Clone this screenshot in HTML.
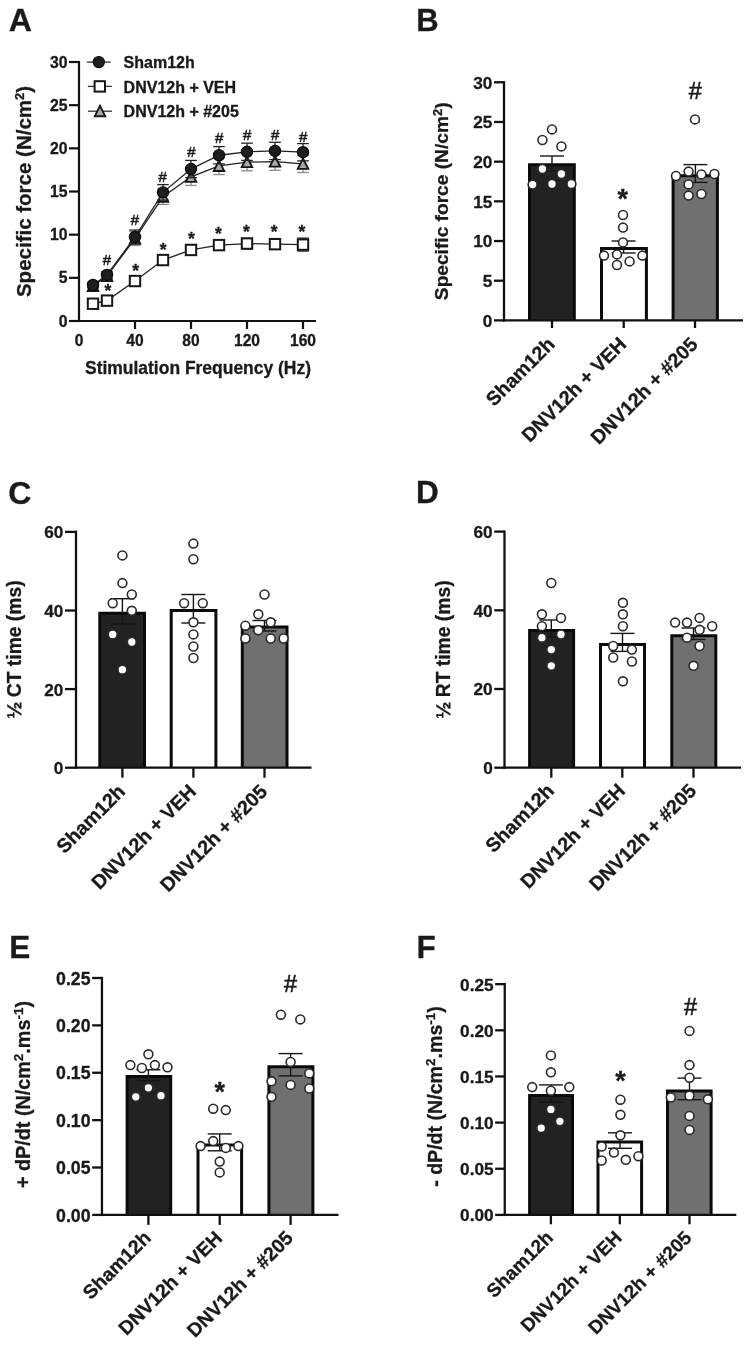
<!DOCTYPE html>
<html><head><meta charset="utf-8"><title>Figure</title>
<style>html,body{margin:0;padding:0;background:#fff}svg{display:block;filter:blur(0.45px)}text{font-family:"Liberation Sans",sans-serif;fill:#1a1a1a;stroke:#1a1a1a;stroke-width:.3px}</style></head><body>
<svg width="750" height="1347" viewBox="0 0 750 1347">
<rect width="750" height="1347" fill="#fff"/>
<text x="8.7" y="31.2" font-size="31.5" font-weight="bold" text-anchor="start" textLength="23.2" lengthAdjust="spacingAndGlyphs">A</text>
<line x1="93" y1="283.45" x2="93" y2="288.63" stroke="#8c8c8c" stroke-width="1.3" stroke-linecap="butt"/>
<line x1="87.2" y1="283.45" x2="98.8" y2="283.45" stroke="#8c8c8c" stroke-width="1.3" stroke-linecap="butt"/>
<line x1="87.2" y1="288.63" x2="98.8" y2="288.63" stroke="#8c8c8c" stroke-width="1.3" stroke-linecap="butt"/>
<line x1="107" y1="272.66" x2="107" y2="279.56" stroke="#8c8c8c" stroke-width="1.3" stroke-linecap="butt"/>
<line x1="101.2" y1="272.66" x2="112.8" y2="272.66" stroke="#8c8c8c" stroke-width="1.3" stroke-linecap="butt"/>
<line x1="101.2" y1="279.56" x2="112.8" y2="279.56" stroke="#8c8c8c" stroke-width="1.3" stroke-linecap="butt"/>
<line x1="135" y1="231.65" x2="135" y2="245.46" stroke="#8c8c8c" stroke-width="1.3" stroke-linecap="butt"/>
<line x1="129.2" y1="231.65" x2="140.8" y2="231.65" stroke="#8c8c8c" stroke-width="1.3" stroke-linecap="butt"/>
<line x1="129.2" y1="245.46" x2="140.8" y2="245.46" stroke="#8c8c8c" stroke-width="1.3" stroke-linecap="butt"/>
<line x1="163" y1="188.92" x2="163" y2="204.45" stroke="#8c8c8c" stroke-width="1.3" stroke-linecap="butt"/>
<line x1="157.2" y1="188.92" x2="168.8" y2="188.92" stroke="#8c8c8c" stroke-width="1.3" stroke-linecap="butt"/>
<line x1="157.2" y1="204.45" x2="168.8" y2="204.45" stroke="#8c8c8c" stroke-width="1.3" stroke-linecap="butt"/>
<line x1="191" y1="168.2" x2="191" y2="185.46" stroke="#8c8c8c" stroke-width="1.3" stroke-linecap="butt"/>
<line x1="185.2" y1="168.2" x2="196.8" y2="168.2" stroke="#8c8c8c" stroke-width="1.3" stroke-linecap="butt"/>
<line x1="185.2" y1="185.46" x2="196.8" y2="185.46" stroke="#8c8c8c" stroke-width="1.3" stroke-linecap="butt"/>
<line x1="219" y1="157.32" x2="219" y2="174.58" stroke="#8c8c8c" stroke-width="1.3" stroke-linecap="butt"/>
<line x1="213.2" y1="157.32" x2="224.8" y2="157.32" stroke="#8c8c8c" stroke-width="1.3" stroke-linecap="butt"/>
<line x1="213.2" y1="174.58" x2="224.8" y2="174.58" stroke="#8c8c8c" stroke-width="1.3" stroke-linecap="butt"/>
<line x1="247" y1="153.52" x2="247" y2="170.79" stroke="#8c8c8c" stroke-width="1.3" stroke-linecap="butt"/>
<line x1="241.2" y1="153.52" x2="252.8" y2="153.52" stroke="#8c8c8c" stroke-width="1.3" stroke-linecap="butt"/>
<line x1="241.2" y1="170.79" x2="252.8" y2="170.79" stroke="#8c8c8c" stroke-width="1.3" stroke-linecap="butt"/>
<line x1="275" y1="153" x2="275" y2="170.27" stroke="#8c8c8c" stroke-width="1.3" stroke-linecap="butt"/>
<line x1="269.2" y1="153" x2="280.8" y2="153" stroke="#8c8c8c" stroke-width="1.3" stroke-linecap="butt"/>
<line x1="269.2" y1="170.27" x2="280.8" y2="170.27" stroke="#8c8c8c" stroke-width="1.3" stroke-linecap="butt"/>
<line x1="303" y1="155.25" x2="303" y2="172.51" stroke="#8c8c8c" stroke-width="1.3" stroke-linecap="butt"/>
<line x1="297.2" y1="155.25" x2="308.8" y2="155.25" stroke="#8c8c8c" stroke-width="1.3" stroke-linecap="butt"/>
<line x1="297.2" y1="172.51" x2="308.8" y2="172.51" stroke="#8c8c8c" stroke-width="1.3" stroke-linecap="butt"/>
<polyline points="93,286.04 107,276.11 135,238.55 163,196.68 191,176.83 219,165.95 247,162.15 275,161.63 303,163.88" fill="none" stroke="#222" stroke-width="1.3"/>
<polygon points="93,280.64 87.8,291.04 98.2,291.04" fill="#a8a8a8" stroke="#161616" stroke-width="1.9" stroke-linejoin="miter"/>
<polygon points="107,270.71 101.8,281.11 112.2,281.11" fill="#a8a8a8" stroke="#161616" stroke-width="1.9" stroke-linejoin="miter"/>
<polygon points="135,233.15 129.8,243.55 140.2,243.55" fill="#a8a8a8" stroke="#161616" stroke-width="1.9" stroke-linejoin="miter"/>
<polygon points="163,191.28 157.8,201.68 168.2,201.68" fill="#a8a8a8" stroke="#161616" stroke-width="1.9" stroke-linejoin="miter"/>
<polygon points="191,171.43 185.8,181.83 196.2,181.83" fill="#a8a8a8" stroke="#161616" stroke-width="1.9" stroke-linejoin="miter"/>
<polygon points="219,160.55 213.8,170.95 224.2,170.95" fill="#a8a8a8" stroke="#161616" stroke-width="1.9" stroke-linejoin="miter"/>
<polygon points="247,156.75 241.8,167.15 252.2,167.15" fill="#a8a8a8" stroke="#161616" stroke-width="1.9" stroke-linejoin="miter"/>
<polygon points="275,156.23 269.8,166.63 280.2,166.63" fill="#a8a8a8" stroke="#161616" stroke-width="1.9" stroke-linejoin="miter"/>
<polygon points="303,158.48 297.8,168.88 308.2,168.88" fill="#a8a8a8" stroke="#161616" stroke-width="1.9" stroke-linejoin="miter"/>
<line x1="93" y1="302.01" x2="93" y2="305.46" stroke="#222" stroke-width="1.3" stroke-linecap="butt"/>
<line x1="87.2" y1="302.01" x2="98.8" y2="302.01" stroke="#222" stroke-width="1.3" stroke-linecap="butt"/>
<line x1="87.2" y1="305.46" x2="98.8" y2="305.46" stroke="#222" stroke-width="1.3" stroke-linecap="butt"/>
<line x1="107" y1="298.9" x2="107" y2="302.35" stroke="#222" stroke-width="1.3" stroke-linecap="butt"/>
<line x1="101.2" y1="298.9" x2="112.8" y2="298.9" stroke="#222" stroke-width="1.3" stroke-linecap="butt"/>
<line x1="101.2" y1="302.35" x2="112.8" y2="302.35" stroke="#222" stroke-width="1.3" stroke-linecap="butt"/>
<line x1="135" y1="278.01" x2="135" y2="284.05" stroke="#222" stroke-width="1.3" stroke-linecap="butt"/>
<line x1="129.2" y1="278.01" x2="140.8" y2="278.01" stroke="#222" stroke-width="1.3" stroke-linecap="butt"/>
<line x1="129.2" y1="284.05" x2="140.8" y2="284.05" stroke="#222" stroke-width="1.3" stroke-linecap="butt"/>
<line x1="163" y1="256.6" x2="163" y2="263.5" stroke="#222" stroke-width="1.3" stroke-linecap="butt"/>
<line x1="157.2" y1="256.6" x2="168.8" y2="256.6" stroke="#222" stroke-width="1.3" stroke-linecap="butt"/>
<line x1="157.2" y1="263.5" x2="168.8" y2="263.5" stroke="#222" stroke-width="1.3" stroke-linecap="butt"/>
<line x1="191" y1="245.63" x2="191" y2="254.27" stroke="#222" stroke-width="1.3" stroke-linecap="butt"/>
<line x1="185.2" y1="245.63" x2="196.8" y2="245.63" stroke="#222" stroke-width="1.3" stroke-linecap="butt"/>
<line x1="185.2" y1="254.27" x2="196.8" y2="254.27" stroke="#222" stroke-width="1.3" stroke-linecap="butt"/>
<line x1="219" y1="240.37" x2="219" y2="249.86" stroke="#222" stroke-width="1.3" stroke-linecap="butt"/>
<line x1="213.2" y1="240.37" x2="224.8" y2="240.37" stroke="#222" stroke-width="1.3" stroke-linecap="butt"/>
<line x1="213.2" y1="249.86" x2="224.8" y2="249.86" stroke="#222" stroke-width="1.3" stroke-linecap="butt"/>
<line x1="247" y1="238.38" x2="247" y2="248.74" stroke="#222" stroke-width="1.3" stroke-linecap="butt"/>
<line x1="241.2" y1="238.38" x2="252.8" y2="238.38" stroke="#222" stroke-width="1.3" stroke-linecap="butt"/>
<line x1="241.2" y1="248.74" x2="252.8" y2="248.74" stroke="#222" stroke-width="1.3" stroke-linecap="butt"/>
<line x1="275" y1="238.99" x2="275" y2="249.35" stroke="#222" stroke-width="1.3" stroke-linecap="butt"/>
<line x1="269.2" y1="238.99" x2="280.8" y2="238.99" stroke="#222" stroke-width="1.3" stroke-linecap="butt"/>
<line x1="269.2" y1="249.35" x2="280.8" y2="249.35" stroke="#222" stroke-width="1.3" stroke-linecap="butt"/>
<line x1="303" y1="238.12" x2="303" y2="251.07" stroke="#222" stroke-width="1.3" stroke-linecap="butt"/>
<line x1="297.2" y1="238.12" x2="308.8" y2="238.12" stroke="#222" stroke-width="1.3" stroke-linecap="butt"/>
<line x1="297.2" y1="251.07" x2="308.8" y2="251.07" stroke="#222" stroke-width="1.3" stroke-linecap="butt"/>
<polyline points="93,303.73 107,300.63 135,281.03 163,260.05 191,249.95 219,245.12 247,243.56 275,244.17 303,244.6" fill="none" stroke="#222" stroke-width="1.3"/>
<rect x="87.8" y="298.53" width="10.4" height="10.4" fill="#fff" stroke="#161616" stroke-width="2"/>
<rect x="101.8" y="295.43" width="10.4" height="10.4" fill="#fff" stroke="#161616" stroke-width="2"/>
<rect x="129.8" y="275.83" width="10.4" height="10.4" fill="#fff" stroke="#161616" stroke-width="2"/>
<rect x="157.8" y="254.85" width="10.4" height="10.4" fill="#fff" stroke="#161616" stroke-width="2"/>
<rect x="185.8" y="244.75" width="10.4" height="10.4" fill="#fff" stroke="#161616" stroke-width="2"/>
<rect x="213.8" y="239.92" width="10.4" height="10.4" fill="#fff" stroke="#161616" stroke-width="2"/>
<rect x="241.8" y="238.36" width="10.4" height="10.4" fill="#fff" stroke="#161616" stroke-width="2"/>
<rect x="269.8" y="238.97" width="10.4" height="10.4" fill="#fff" stroke="#161616" stroke-width="2"/>
<rect x="297.8" y="239.4" width="10.4" height="10.4" fill="#fff" stroke="#161616" stroke-width="2"/>
<line x1="93" y1="282.41" x2="93" y2="287.59" stroke="#222" stroke-width="1.3" stroke-linecap="butt"/>
<line x1="87.2" y1="282.41" x2="98.8" y2="282.41" stroke="#222" stroke-width="1.3" stroke-linecap="butt"/>
<line x1="87.2" y1="287.59" x2="98.8" y2="287.59" stroke="#222" stroke-width="1.3" stroke-linecap="butt"/>
<line x1="107" y1="271.53" x2="107" y2="278.44" stroke="#222" stroke-width="1.3" stroke-linecap="butt"/>
<line x1="101.2" y1="271.53" x2="112.8" y2="271.53" stroke="#222" stroke-width="1.3" stroke-linecap="butt"/>
<line x1="101.2" y1="278.44" x2="112.8" y2="278.44" stroke="#222" stroke-width="1.3" stroke-linecap="butt"/>
<line x1="135" y1="230.09" x2="135" y2="243.91" stroke="#222" stroke-width="1.3" stroke-linecap="butt"/>
<line x1="129.2" y1="230.09" x2="140.8" y2="230.09" stroke="#222" stroke-width="1.3" stroke-linecap="butt"/>
<line x1="129.2" y1="243.91" x2="140.8" y2="243.91" stroke="#222" stroke-width="1.3" stroke-linecap="butt"/>
<line x1="163" y1="184.6" x2="163" y2="200.14" stroke="#222" stroke-width="1.3" stroke-linecap="butt"/>
<line x1="157.2" y1="184.6" x2="168.8" y2="184.6" stroke="#222" stroke-width="1.3" stroke-linecap="butt"/>
<line x1="157.2" y1="200.14" x2="168.8" y2="200.14" stroke="#222" stroke-width="1.3" stroke-linecap="butt"/>
<line x1="191" y1="160.43" x2="191" y2="177.69" stroke="#222" stroke-width="1.3" stroke-linecap="butt"/>
<line x1="185.2" y1="160.43" x2="196.8" y2="160.43" stroke="#222" stroke-width="1.3" stroke-linecap="butt"/>
<line x1="185.2" y1="177.69" x2="196.8" y2="177.69" stroke="#222" stroke-width="1.3" stroke-linecap="butt"/>
<line x1="219" y1="146.61" x2="219" y2="163.88" stroke="#222" stroke-width="1.3" stroke-linecap="butt"/>
<line x1="213.2" y1="146.61" x2="224.8" y2="146.61" stroke="#222" stroke-width="1.3" stroke-linecap="butt"/>
<line x1="213.2" y1="163.88" x2="224.8" y2="163.88" stroke="#222" stroke-width="1.3" stroke-linecap="butt"/>
<line x1="247" y1="143.16" x2="247" y2="160.43" stroke="#222" stroke-width="1.3" stroke-linecap="butt"/>
<line x1="241.2" y1="143.16" x2="252.8" y2="143.16" stroke="#222" stroke-width="1.3" stroke-linecap="butt"/>
<line x1="241.2" y1="160.43" x2="252.8" y2="160.43" stroke="#222" stroke-width="1.3" stroke-linecap="butt"/>
<line x1="275" y1="142.3" x2="275" y2="159.56" stroke="#222" stroke-width="1.3" stroke-linecap="butt"/>
<line x1="269.2" y1="142.3" x2="280.8" y2="142.3" stroke="#222" stroke-width="1.3" stroke-linecap="butt"/>
<line x1="269.2" y1="159.56" x2="280.8" y2="159.56" stroke="#222" stroke-width="1.3" stroke-linecap="butt"/>
<line x1="303" y1="143.59" x2="303" y2="160.86" stroke="#222" stroke-width="1.3" stroke-linecap="butt"/>
<line x1="297.2" y1="143.59" x2="308.8" y2="143.59" stroke="#222" stroke-width="1.3" stroke-linecap="butt"/>
<line x1="297.2" y1="160.86" x2="308.8" y2="160.86" stroke="#222" stroke-width="1.3" stroke-linecap="butt"/>
<polyline points="93,285 107,274.99 135,237 163,192.37 191,169.06 219,155.25 247,151.79 275,150.93 303,152.22" fill="none" stroke="#222" stroke-width="1.3"/>
<circle cx="93" cy="285" r="5.6" fill="#1e1e1e" stroke="#0a0a0a" stroke-width="1.2"/>
<circle cx="107" cy="274.99" r="5.6" fill="#1e1e1e" stroke="#0a0a0a" stroke-width="1.2"/>
<circle cx="135" cy="237" r="5.6" fill="#1e1e1e" stroke="#0a0a0a" stroke-width="1.2"/>
<circle cx="163" cy="192.37" r="5.6" fill="#1e1e1e" stroke="#0a0a0a" stroke-width="1.2"/>
<circle cx="191" cy="169.06" r="5.6" fill="#1e1e1e" stroke="#0a0a0a" stroke-width="1.2"/>
<circle cx="219" cy="155.25" r="5.6" fill="#1e1e1e" stroke="#0a0a0a" stroke-width="1.2"/>
<circle cx="247" cy="151.79" r="5.6" fill="#1e1e1e" stroke="#0a0a0a" stroke-width="1.2"/>
<circle cx="275" cy="150.93" r="5.6" fill="#1e1e1e" stroke="#0a0a0a" stroke-width="1.2"/>
<circle cx="303" cy="152.22" r="5.6" fill="#1e1e1e" stroke="#0a0a0a" stroke-width="1.2"/>
<text x="107" y="265.2" font-size="15" font-weight="normal" text-anchor="middle" style="stroke-width:0.5px">#</text>
<text x="135" y="225.2" font-size="15" font-weight="normal" text-anchor="middle" style="stroke-width:0.5px">#</text>
<text x="162.7" y="182" font-size="15" font-weight="normal" text-anchor="middle" style="stroke-width:0.5px">#</text>
<text x="191.5" y="156.7" font-size="15" font-weight="normal" text-anchor="middle" style="stroke-width:0.5px">#</text>
<text x="219.2" y="143.2" font-size="15" font-weight="normal" text-anchor="middle" style="stroke-width:0.5px">#</text>
<text x="247.2" y="140.1" font-size="15" font-weight="normal" text-anchor="middle" style="stroke-width:0.5px">#</text>
<text x="275.2" y="140.1" font-size="15" font-weight="normal" text-anchor="middle" style="stroke-width:0.5px">#</text>
<text x="303.2" y="141.6" font-size="15" font-weight="normal" text-anchor="middle" style="stroke-width:0.5px">#</text>
<text x="108" y="296.7" font-size="17.5" font-weight="bold" text-anchor="middle">*</text>
<text x="135.6" y="277.3" font-size="17.5" font-weight="bold" text-anchor="middle">*</text>
<text x="163.2" y="256.2" font-size="17.5" font-weight="bold" text-anchor="middle">*</text>
<text x="191.3" y="244.8" font-size="17.5" font-weight="bold" text-anchor="middle">*</text>
<text x="218.4" y="239.7" font-size="17.5" font-weight="bold" text-anchor="middle">*</text>
<text x="246.3" y="237.9" font-size="17.5" font-weight="bold" text-anchor="middle">*</text>
<text x="274.1" y="237.9" font-size="17.5" font-weight="bold" text-anchor="middle">*</text>
<text x="302" y="238.4" font-size="17.5" font-weight="bold" text-anchor="middle">*</text>
<line x1="79" y1="60.91" x2="79" y2="322.1" stroke="#111" stroke-width="2.2" stroke-linecap="butt"/>
<line x1="77.9" y1="321" x2="316" y2="321" stroke="#111" stroke-width="2.2" stroke-linecap="butt"/>
<line x1="69" y1="321" x2="79" y2="321" stroke="#111" stroke-width="2.2" stroke-linecap="butt"/>
<text x="67.5" y="326.5" font-size="15.8" font-weight="bold" text-anchor="end">0</text>
<line x1="69" y1="277.84" x2="79" y2="277.84" stroke="#111" stroke-width="2.2" stroke-linecap="butt"/>
<text x="67.5" y="283.34" font-size="15.8" font-weight="bold" text-anchor="end">5</text>
<line x1="69" y1="234.67" x2="79" y2="234.67" stroke="#111" stroke-width="2.2" stroke-linecap="butt"/>
<text x="67.5" y="240.17" font-size="15.8" font-weight="bold" text-anchor="end">10</text>
<line x1="69" y1="191.51" x2="79" y2="191.51" stroke="#111" stroke-width="2.2" stroke-linecap="butt"/>
<text x="67.5" y="197.01" font-size="15.8" font-weight="bold" text-anchor="end">15</text>
<line x1="69" y1="148.34" x2="79" y2="148.34" stroke="#111" stroke-width="2.2" stroke-linecap="butt"/>
<text x="67.5" y="153.84" font-size="15.8" font-weight="bold" text-anchor="end">20</text>
<line x1="69" y1="105.18" x2="79" y2="105.18" stroke="#111" stroke-width="2.2" stroke-linecap="butt"/>
<text x="67.5" y="110.68" font-size="15.8" font-weight="bold" text-anchor="end">25</text>
<line x1="69" y1="62.01" x2="79" y2="62.01" stroke="#111" stroke-width="2.2" stroke-linecap="butt"/>
<text x="67.5" y="67.51" font-size="15.8" font-weight="bold" text-anchor="end">30</text>
<text x="79" y="345.8" font-size="15.6" font-weight="bold" text-anchor="middle">0</text>
<line x1="135" y1="321" x2="135" y2="329" stroke="#111" stroke-width="2.2" stroke-linecap="butt"/>
<text x="135" y="345.8" font-size="15.6" font-weight="bold" text-anchor="middle">40</text>
<line x1="191" y1="321" x2="191" y2="329" stroke="#111" stroke-width="2.2" stroke-linecap="butt"/>
<text x="191" y="345.8" font-size="15.6" font-weight="bold" text-anchor="middle">80</text>
<line x1="247" y1="321" x2="247" y2="329" stroke="#111" stroke-width="2.2" stroke-linecap="butt"/>
<text x="247" y="345.8" font-size="15.6" font-weight="bold" text-anchor="middle">120</text>
<line x1="303" y1="321" x2="303" y2="329" stroke="#111" stroke-width="2.2" stroke-linecap="butt"/>
<text x="303" y="345.8" font-size="15.6" font-weight="bold" text-anchor="middle">160</text>
<text x="198" y="373.8" font-size="17.5" font-weight="bold" text-anchor="middle" textLength="226" lengthAdjust="spacingAndGlyphs">Stimulation Frequency (Hz)</text>
<text x="30.8" y="191.5" font-size="20.5" font-weight="bold" text-anchor="middle" transform="rotate(-90 30.8 191.5)">Specific force (N/cm<tspan font-size="13" dy="-6.5">2</tspan><tspan dy="6.5">)</tspan></text>
<line x1="86.8" y1="62.1" x2="110.8" y2="62.1" stroke="#333" stroke-width="1.3" stroke-linecap="butt"/>
<circle cx="98.8" cy="62.1" r="5.6" fill="#1e1e1e" stroke="#0a0a0a" stroke-width="1.2"/>
<text x="123.6" y="68.2" font-size="16" font-weight="bold" text-anchor="start">Sham12h</text>
<line x1="87.8" y1="86.4" x2="111.8" y2="86.4" stroke="#333" stroke-width="1.3" stroke-linecap="butt"/>
<rect x="94.6" y="81.2" width="10.4" height="10.4" fill="#fff" stroke="#161616" stroke-width="2"/>
<text x="123.6" y="92.5" font-size="16" font-weight="bold" text-anchor="start">DNV12h + VEH</text>
<line x1="88" y1="111.2" x2="112" y2="111.2" stroke="#333" stroke-width="1.3" stroke-linecap="butt"/>
<polygon points="100,105.8 94.8,116.2 105.2,116.2" fill="#a8a8a8" stroke="#161616" stroke-width="1.9"/>
<text x="123.6" y="117.4" font-size="16" font-weight="bold" text-anchor="start">DNV12h + #205</text>
<text x="416.3" y="30.5" font-size="31" font-weight="bold" text-anchor="start">B</text>
<rect x="529.5" y="164.8" width="44.8" height="155.6" fill="#222222"/>
<polyline points="529.5,320.4 529.5,164.8 574.3,164.8 574.3,320.4" fill="none" stroke="#0a0a0a" stroke-width="3" stroke-linejoin="miter"/>
<rect x="601.5" y="248.5" width="44.9" height="71.9" fill="#ffffff"/>
<polyline points="601.5,320.4 601.5,248.5 646.4,248.5 646.4,320.4" fill="none" stroke="#0a0a0a" stroke-width="3" stroke-linejoin="miter"/>
<rect x="673.1" y="175.7" width="44.3" height="144.7" fill="#707070"/>
<polyline points="673.1,320.4 673.1,175.7 717.4,175.7 717.4,320.4" fill="none" stroke="#0a0a0a" stroke-width="3" stroke-linejoin="miter"/>
<line x1="552" y1="156" x2="552" y2="171" stroke="#151515" stroke-width="1.4" stroke-linecap="butt"/>
<line x1="540" y1="156" x2="564" y2="156" stroke="#151515" stroke-width="1.4" stroke-linecap="butt"/>
<line x1="540" y1="171" x2="564" y2="171" stroke="#151515" stroke-width="1.4" stroke-linecap="butt"/>
<line x1="623.6" y1="241" x2="623.6" y2="253" stroke="#151515" stroke-width="1.4" stroke-linecap="butt"/>
<line x1="611.6" y1="241" x2="635.6" y2="241" stroke="#151515" stroke-width="1.4" stroke-linecap="butt"/>
<line x1="611.6" y1="253" x2="635.6" y2="253" stroke="#151515" stroke-width="1.4" stroke-linecap="butt"/>
<line x1="695.4" y1="164.6" x2="695.4" y2="182.4" stroke="#151515" stroke-width="1.4" stroke-linecap="butt"/>
<line x1="683.4" y1="164.6" x2="707.4" y2="164.6" stroke="#151515" stroke-width="1.4" stroke-linecap="butt"/>
<line x1="683.4" y1="182.4" x2="707.4" y2="182.4" stroke="#151515" stroke-width="1.4" stroke-linecap="butt"/>
<circle cx="552" cy="129.4" r="4.45" fill="#fff" stroke="#2a2a2a" stroke-width="1.6"/>
<circle cx="542.4" cy="140" r="4.45" fill="#fff" stroke="#2a2a2a" stroke-width="1.6"/>
<circle cx="561.4" cy="146.4" r="4.45" fill="#fff" stroke="#2a2a2a" stroke-width="1.6"/>
<circle cx="542.4" cy="169" r="4.45" fill="#fff" stroke="#2a2a2a" stroke-width="1.6"/>
<circle cx="561.4" cy="174" r="4.45" fill="#fff" stroke="#2a2a2a" stroke-width="1.6"/>
<circle cx="532.6" cy="184.6" r="4.45" fill="#fff" stroke="#2a2a2a" stroke-width="1.6"/>
<circle cx="552" cy="184" r="4.45" fill="#fff" stroke="#2a2a2a" stroke-width="1.6"/>
<circle cx="571.4" cy="184" r="4.45" fill="#fff" stroke="#2a2a2a" stroke-width="1.6"/>
<circle cx="623" cy="215" r="4.45" fill="#fff" stroke="#2a2a2a" stroke-width="1.6"/>
<circle cx="623" cy="227.6" r="4.45" fill="#fff" stroke="#2a2a2a" stroke-width="1.6"/>
<circle cx="623" cy="242.4" r="4.45" fill="#fff" stroke="#2a2a2a" stroke-width="1.6"/>
<circle cx="604" cy="255.6" r="4.45" fill="#fff" stroke="#2a2a2a" stroke-width="1.6"/>
<circle cx="617" cy="254.4" r="4.45" fill="#fff" stroke="#2a2a2a" stroke-width="1.6"/>
<circle cx="642.4" cy="255.6" r="4.45" fill="#fff" stroke="#2a2a2a" stroke-width="1.6"/>
<circle cx="629.6" cy="261.4" r="4.45" fill="#fff" stroke="#2a2a2a" stroke-width="1.6"/>
<circle cx="617" cy="265" r="4.45" fill="#fff" stroke="#2a2a2a" stroke-width="1.6"/>
<circle cx="695" cy="119.4" r="4.45" fill="#fff" stroke="#2a2a2a" stroke-width="1.6"/>
<circle cx="676" cy="176" r="4.45" fill="#fff" stroke="#2a2a2a" stroke-width="1.6"/>
<circle cx="688.6" cy="171.6" r="4.45" fill="#fff" stroke="#2a2a2a" stroke-width="1.6"/>
<circle cx="701.4" cy="174.4" r="4.45" fill="#fff" stroke="#2a2a2a" stroke-width="1.6"/>
<circle cx="714.4" cy="174" r="4.45" fill="#fff" stroke="#2a2a2a" stroke-width="1.6"/>
<circle cx="688.6" cy="184.4" r="4.45" fill="#fff" stroke="#2a2a2a" stroke-width="1.6"/>
<circle cx="688.6" cy="195.6" r="4.45" fill="#fff" stroke="#2a2a2a" stroke-width="1.6"/>
<circle cx="701.4" cy="194" r="4.45" fill="#fff" stroke="#2a2a2a" stroke-width="1.6"/>
<line x1="504" y1="81.15" x2="504" y2="321.55" stroke="#111" stroke-width="2.3" stroke-linecap="butt"/>
<line x1="502.85" y1="320.4" x2="743" y2="320.4" stroke="#111" stroke-width="2.3" stroke-linecap="butt"/>
<line x1="494" y1="320.4" x2="504" y2="320.4" stroke="#111" stroke-width="2.3" stroke-linecap="butt"/>
<text x="492.4" y="326.86" font-size="17.2" font-weight="bold" text-anchor="end">0</text>
<line x1="494" y1="280.71" x2="504" y2="280.71" stroke="#111" stroke-width="2.3" stroke-linecap="butt"/>
<text x="492.4" y="287.17" font-size="17.2" font-weight="bold" text-anchor="end">5</text>
<line x1="494" y1="241.03" x2="504" y2="241.03" stroke="#111" stroke-width="2.3" stroke-linecap="butt"/>
<text x="492.4" y="247.49" font-size="17.2" font-weight="bold" text-anchor="end">10</text>
<line x1="494" y1="201.34" x2="504" y2="201.34" stroke="#111" stroke-width="2.3" stroke-linecap="butt"/>
<text x="492.4" y="207.8" font-size="17.2" font-weight="bold" text-anchor="end">15</text>
<line x1="494" y1="161.66" x2="504" y2="161.66" stroke="#111" stroke-width="2.3" stroke-linecap="butt"/>
<text x="492.4" y="168.12" font-size="17.2" font-weight="bold" text-anchor="end">20</text>
<line x1="494" y1="121.97" x2="504" y2="121.97" stroke="#111" stroke-width="2.3" stroke-linecap="butt"/>
<text x="492.4" y="128.43" font-size="17.2" font-weight="bold" text-anchor="end">25</text>
<line x1="494" y1="82.29" x2="504" y2="82.29" stroke="#111" stroke-width="2.3" stroke-linecap="butt"/>
<text x="492.4" y="88.75" font-size="17.2" font-weight="bold" text-anchor="end">30</text>
<line x1="552" y1="320.4" x2="552" y2="328" stroke="#111" stroke-width="2.3" stroke-linecap="butt"/>
<line x1="623.7" y1="320.4" x2="623.7" y2="328" stroke="#111" stroke-width="2.3" stroke-linecap="butt"/>
<line x1="695" y1="320.4" x2="695" y2="328" stroke="#111" stroke-width="2.3" stroke-linecap="butt"/>
<text x="448.2" y="201.3" font-size="19.15" font-weight="bold" text-anchor="middle" transform="rotate(-90 448.2 201.3)">Specific force (N/cm<tspan font-size="13" dy="-6.5">2</tspan><tspan dy="6.5">)</tspan></text>
<text x="556" y="345.4" font-size="19.7" font-weight="bold" text-anchor="end" transform="rotate(-45 556 345.4)">Sham12h</text>
<text x="627.7" y="345.4" font-size="19.7" font-weight="bold" text-anchor="end" transform="rotate(-45 627.7 345.4)">DNV12h + VEH</text>
<text x="699" y="345.4" font-size="19.7" font-weight="bold" text-anchor="end" transform="rotate(-45 699 345.4)">DNV12h + #205</text>
<text x="622.8" y="207.5" font-size="27" font-weight="bold" text-anchor="middle">*</text>
<text x="695.4" y="99.2" font-size="23.5" font-weight="normal" text-anchor="middle" style="stroke-width:0.6px">#</text>
<text x="8.2" y="503.8" font-size="32" font-weight="bold" text-anchor="start">C</text>
<rect x="99.8" y="613.2" width="44.7" height="154.5" fill="#222222"/>
<polyline points="99.8,767.7 99.8,613.2 144.5,613.2 144.5,767.7" fill="none" stroke="#0a0a0a" stroke-width="3" stroke-linejoin="miter"/>
<rect x="171.2" y="610.4" width="44.7" height="157.3" fill="#ffffff"/>
<polyline points="171.2,767.7 171.2,610.4 215.9,610.4 215.9,767.7" fill="none" stroke="#0a0a0a" stroke-width="3" stroke-linejoin="miter"/>
<rect x="242.3" y="627" width="44.7" height="140.7" fill="#707070"/>
<polyline points="242.3,767.7 242.3,627 287,627 287,767.7" fill="none" stroke="#0a0a0a" stroke-width="3" stroke-linejoin="miter"/>
<line x1="122.4" y1="598.7" x2="122.4" y2="624" stroke="#151515" stroke-width="1.4" stroke-linecap="butt"/>
<line x1="110.4" y1="598.7" x2="134.4" y2="598.7" stroke="#151515" stroke-width="1.4" stroke-linecap="butt"/>
<line x1="110.4" y1="624" x2="134.4" y2="624" stroke="#151515" stroke-width="1.4" stroke-linecap="butt"/>
<line x1="193.4" y1="594.5" x2="193.4" y2="623" stroke="#151515" stroke-width="1.4" stroke-linecap="butt"/>
<line x1="181.4" y1="594.5" x2="205.4" y2="594.5" stroke="#151515" stroke-width="1.4" stroke-linecap="butt"/>
<line x1="181.4" y1="623" x2="205.4" y2="623" stroke="#151515" stroke-width="1.4" stroke-linecap="butt"/>
<line x1="264.5" y1="620.5" x2="264.5" y2="631" stroke="#151515" stroke-width="1.4" stroke-linecap="butt"/>
<line x1="252.5" y1="620.5" x2="276.5" y2="620.5" stroke="#151515" stroke-width="1.4" stroke-linecap="butt"/>
<line x1="252.5" y1="631" x2="276.5" y2="631" stroke="#151515" stroke-width="1.4" stroke-linecap="butt"/>
<circle cx="122.4" cy="555.4" r="4.45" fill="#fff" stroke="#2a2a2a" stroke-width="1.6"/>
<circle cx="122.4" cy="583.1" r="4.45" fill="#fff" stroke="#2a2a2a" stroke-width="1.6"/>
<circle cx="131.8" cy="594.5" r="4.45" fill="#fff" stroke="#2a2a2a" stroke-width="1.6"/>
<circle cx="112.7" cy="603.2" r="4.45" fill="#fff" stroke="#2a2a2a" stroke-width="1.6"/>
<circle cx="131.8" cy="610.8" r="4.45" fill="#fff" stroke="#2a2a2a" stroke-width="1.6"/>
<circle cx="112.7" cy="634.4" r="4.45" fill="#fff" stroke="#2a2a2a" stroke-width="1.6"/>
<circle cx="131.8" cy="642" r="4.45" fill="#fff" stroke="#2a2a2a" stroke-width="1.6"/>
<circle cx="122.4" cy="669.7" r="4.45" fill="#fff" stroke="#2a2a2a" stroke-width="1.6"/>
<circle cx="193.4" cy="543.6" r="4.45" fill="#fff" stroke="#2a2a2a" stroke-width="1.6"/>
<circle cx="193.4" cy="559.2" r="4.45" fill="#fff" stroke="#2a2a2a" stroke-width="1.6"/>
<circle cx="184.1" cy="603.2" r="4.45" fill="#fff" stroke="#2a2a2a" stroke-width="1.6"/>
<circle cx="202.8" cy="603.2" r="4.45" fill="#fff" stroke="#2a2a2a" stroke-width="1.6"/>
<circle cx="193.4" cy="622.3" r="4.45" fill="#fff" stroke="#2a2a2a" stroke-width="1.6"/>
<circle cx="193.4" cy="634.4" r="4.45" fill="#fff" stroke="#2a2a2a" stroke-width="1.6"/>
<circle cx="193.4" cy="646.5" r="4.45" fill="#fff" stroke="#2a2a2a" stroke-width="1.6"/>
<circle cx="193.4" cy="658" r="4.45" fill="#fff" stroke="#2a2a2a" stroke-width="1.6"/>
<circle cx="264.5" cy="594.5" r="4.45" fill="#fff" stroke="#2a2a2a" stroke-width="1.6"/>
<circle cx="258.3" cy="614.3" r="4.45" fill="#fff" stroke="#2a2a2a" stroke-width="1.6"/>
<circle cx="270.7" cy="622.3" r="4.45" fill="#fff" stroke="#2a2a2a" stroke-width="1.6"/>
<circle cx="245.4" cy="625.7" r="4.45" fill="#fff" stroke="#2a2a2a" stroke-width="1.6"/>
<circle cx="258.3" cy="630.2" r="4.45" fill="#fff" stroke="#2a2a2a" stroke-width="1.6"/>
<circle cx="245.4" cy="638.5" r="4.45" fill="#fff" stroke="#2a2a2a" stroke-width="1.6"/>
<circle cx="270.7" cy="638.5" r="4.45" fill="#fff" stroke="#2a2a2a" stroke-width="1.6"/>
<circle cx="283.6" cy="638.5" r="4.45" fill="#fff" stroke="#2a2a2a" stroke-width="1.6"/>
<line x1="76" y1="530.65" x2="76" y2="768.85" stroke="#111" stroke-width="2.3" stroke-linecap="butt"/>
<line x1="74.85" y1="767.7" x2="311.5" y2="767.7" stroke="#111" stroke-width="2.3" stroke-linecap="butt"/>
<line x1="65" y1="767.7" x2="76" y2="767.7" stroke="#111" stroke-width="2.3" stroke-linecap="butt"/>
<text x="63.4" y="774.16" font-size="17.2" font-weight="bold" text-anchor="end">0</text>
<line x1="65" y1="689.1" x2="76" y2="689.1" stroke="#111" stroke-width="2.3" stroke-linecap="butt"/>
<text x="63.4" y="695.56" font-size="17.2" font-weight="bold" text-anchor="end">20</text>
<line x1="65" y1="610.5" x2="76" y2="610.5" stroke="#111" stroke-width="2.3" stroke-linecap="butt"/>
<text x="63.4" y="616.96" font-size="17.2" font-weight="bold" text-anchor="end">40</text>
<line x1="65" y1="531.9" x2="76" y2="531.9" stroke="#111" stroke-width="2.3" stroke-linecap="butt"/>
<text x="63.4" y="538.36" font-size="17.2" font-weight="bold" text-anchor="end">60</text>
<line x1="122.4" y1="767.7" x2="122.4" y2="777.7" stroke="#111" stroke-width="2.3" stroke-linecap="butt"/>
<line x1="193.4" y1="767.7" x2="193.4" y2="777.7" stroke="#111" stroke-width="2.3" stroke-linecap="butt"/>
<line x1="264.5" y1="767.7" x2="264.5" y2="777.7" stroke="#111" stroke-width="2.3" stroke-linecap="butt"/>
<text x="20.8" y="649.6" font-size="19.3" font-weight="bold" text-anchor="middle" transform="rotate(-90 20.8 649.6)"><tspan font-size="20.5">&#189;</tspan><tspan dx="-0.9"> CT time (ms)</tspan></text>
<text x="126.4" y="792.7" font-size="19.7" font-weight="bold" text-anchor="end" transform="rotate(-45 126.4 792.7)">Sham12h</text>
<text x="197.4" y="792.7" font-size="19.7" font-weight="bold" text-anchor="end" transform="rotate(-45 197.4 792.7)">DNV12h + VEH</text>
<text x="268.5" y="792.7" font-size="19.7" font-weight="bold" text-anchor="end" transform="rotate(-45 268.5 792.7)">DNV12h + #205</text>
<text x="416" y="502.9" font-size="31.5" font-weight="bold" text-anchor="start">D</text>
<rect x="529.6" y="630.4" width="44" height="137.3" fill="#222222"/>
<polyline points="529.6,767.7 529.6,630.4 573.6,630.4 573.6,767.7" fill="none" stroke="#0a0a0a" stroke-width="3" stroke-linejoin="miter"/>
<rect x="600.5" y="644.4" width="44" height="123.3" fill="#ffffff"/>
<polyline points="600.5,767.7 600.5,644.4 644.5,644.4 644.5,767.7" fill="none" stroke="#0a0a0a" stroke-width="3" stroke-linejoin="miter"/>
<rect x="671.8" y="635.8" width="44" height="131.9" fill="#707070"/>
<polyline points="671.8,767.7 671.8,635.8 715.8,635.8 715.8,767.7" fill="none" stroke="#0a0a0a" stroke-width="3" stroke-linejoin="miter"/>
<line x1="551.3" y1="620" x2="551.3" y2="637" stroke="#151515" stroke-width="1.4" stroke-linecap="butt"/>
<line x1="539.3" y1="620" x2="563.3" y2="620" stroke="#151515" stroke-width="1.4" stroke-linecap="butt"/>
<line x1="539.3" y1="637" x2="563.3" y2="637" stroke="#151515" stroke-width="1.4" stroke-linecap="butt"/>
<line x1="622.5" y1="633.4" x2="622.5" y2="651.4" stroke="#151515" stroke-width="1.4" stroke-linecap="butt"/>
<line x1="610.5" y1="633.4" x2="634.5" y2="633.4" stroke="#151515" stroke-width="1.4" stroke-linecap="butt"/>
<line x1="610.5" y1="651.4" x2="634.5" y2="651.4" stroke="#151515" stroke-width="1.4" stroke-linecap="butt"/>
<line x1="693.5" y1="628" x2="693.5" y2="639.5" stroke="#151515" stroke-width="1.4" stroke-linecap="butt"/>
<line x1="681.5" y1="628" x2="705.5" y2="628" stroke="#151515" stroke-width="1.4" stroke-linecap="butt"/>
<line x1="681.5" y1="639.5" x2="705.5" y2="639.5" stroke="#151515" stroke-width="1.4" stroke-linecap="butt"/>
<circle cx="551.3" cy="583" r="4.45" fill="#fff" stroke="#2a2a2a" stroke-width="1.6"/>
<circle cx="541.9" cy="614.3" r="4.45" fill="#fff" stroke="#2a2a2a" stroke-width="1.6"/>
<circle cx="561" cy="617.9" r="4.45" fill="#fff" stroke="#2a2a2a" stroke-width="1.6"/>
<circle cx="541.9" cy="626.2" r="4.45" fill="#fff" stroke="#2a2a2a" stroke-width="1.6"/>
<circle cx="541.9" cy="637.7" r="4.45" fill="#fff" stroke="#2a2a2a" stroke-width="1.6"/>
<circle cx="561" cy="634.5" r="4.45" fill="#fff" stroke="#2a2a2a" stroke-width="1.6"/>
<circle cx="551.3" cy="649.6" r="4.45" fill="#fff" stroke="#2a2a2a" stroke-width="1.6"/>
<circle cx="551.3" cy="665.8" r="4.45" fill="#fff" stroke="#2a2a2a" stroke-width="1.6"/>
<circle cx="622.9" cy="602.8" r="4.45" fill="#fff" stroke="#2a2a2a" stroke-width="1.6"/>
<circle cx="622.9" cy="614.3" r="4.45" fill="#fff" stroke="#2a2a2a" stroke-width="1.6"/>
<circle cx="622.9" cy="626.2" r="4.45" fill="#fff" stroke="#2a2a2a" stroke-width="1.6"/>
<circle cx="613.2" cy="646" r="4.45" fill="#fff" stroke="#2a2a2a" stroke-width="1.6"/>
<circle cx="631.9" cy="649.6" r="4.45" fill="#fff" stroke="#2a2a2a" stroke-width="1.6"/>
<circle cx="613.2" cy="657.5" r="4.45" fill="#fff" stroke="#2a2a2a" stroke-width="1.6"/>
<circle cx="631.9" cy="661.5" r="4.45" fill="#fff" stroke="#2a2a2a" stroke-width="1.6"/>
<circle cx="622.9" cy="681.3" r="4.45" fill="#fff" stroke="#2a2a2a" stroke-width="1.6"/>
<circle cx="675.1" cy="622.6" r="4.45" fill="#fff" stroke="#2a2a2a" stroke-width="1.6"/>
<circle cx="687" cy="622.6" r="4.45" fill="#fff" stroke="#2a2a2a" stroke-width="1.6"/>
<circle cx="699.6" cy="617.9" r="4.45" fill="#fff" stroke="#2a2a2a" stroke-width="1.6"/>
<circle cx="712.2" cy="626.2" r="4.45" fill="#fff" stroke="#2a2a2a" stroke-width="1.6"/>
<circle cx="699.6" cy="629.8" r="4.45" fill="#fff" stroke="#2a2a2a" stroke-width="1.6"/>
<circle cx="687" cy="637.7" r="4.45" fill="#fff" stroke="#2a2a2a" stroke-width="1.6"/>
<circle cx="699.6" cy="646" r="4.45" fill="#fff" stroke="#2a2a2a" stroke-width="1.6"/>
<circle cx="693.5" cy="665.8" r="4.45" fill="#fff" stroke="#2a2a2a" stroke-width="1.6"/>
<line x1="504.5" y1="530.45" x2="504.5" y2="768.85" stroke="#111" stroke-width="2.3" stroke-linecap="butt"/>
<line x1="503.35" y1="767.7" x2="741" y2="767.7" stroke="#111" stroke-width="2.3" stroke-linecap="butt"/>
<line x1="494.3" y1="767.7" x2="504.5" y2="767.7" stroke="#111" stroke-width="2.3" stroke-linecap="butt"/>
<text x="492.7" y="774.16" font-size="17.2" font-weight="bold" text-anchor="end">0</text>
<line x1="494.3" y1="689" x2="504.5" y2="689" stroke="#111" stroke-width="2.3" stroke-linecap="butt"/>
<text x="492.7" y="695.46" font-size="17.2" font-weight="bold" text-anchor="end">20</text>
<line x1="494.3" y1="610.3" x2="504.5" y2="610.3" stroke="#111" stroke-width="2.3" stroke-linecap="butt"/>
<text x="492.7" y="616.76" font-size="17.2" font-weight="bold" text-anchor="end">40</text>
<line x1="494.3" y1="531.6" x2="504.5" y2="531.6" stroke="#111" stroke-width="2.3" stroke-linecap="butt"/>
<text x="492.7" y="538.06" font-size="17.2" font-weight="bold" text-anchor="end">60</text>
<line x1="551.3" y1="767.7" x2="551.3" y2="777.7" stroke="#111" stroke-width="2.3" stroke-linecap="butt"/>
<line x1="622.3" y1="767.7" x2="622.3" y2="777.7" stroke="#111" stroke-width="2.3" stroke-linecap="butt"/>
<line x1="693.5" y1="767.7" x2="693.5" y2="777.7" stroke="#111" stroke-width="2.3" stroke-linecap="butt"/>
<text x="449.6" y="649.6" font-size="19.3" font-weight="bold" text-anchor="middle" transform="rotate(-90 449.6 649.6)"><tspan font-size="20.5">&#189;</tspan><tspan dx="-0.9"> RT time (ms)</tspan></text>
<text x="555.3" y="791.9" font-size="19.7" font-weight="bold" text-anchor="end" transform="rotate(-45 555.3 791.9)">Sham12h</text>
<text x="626.3" y="791.9" font-size="19.7" font-weight="bold" text-anchor="end" transform="rotate(-45 626.3 791.9)">DNV12h + VEH</text>
<text x="697.5" y="791.9" font-size="19.7" font-weight="bold" text-anchor="end" transform="rotate(-45 697.5 791.9)">DNV12h + #205</text>
<text x="9.2" y="957.6" font-size="31.5" font-weight="bold" text-anchor="start">E</text>
<rect x="127.1" y="1076.5" width="43.6" height="138.4" fill="#222222"/>
<polyline points="127.1,1214.9 127.1,1076.5 170.7,1076.5 170.7,1214.9" fill="none" stroke="#0a0a0a" stroke-width="3" stroke-linejoin="miter"/>
<rect x="198" y="1144.9" width="43.6" height="70" fill="#ffffff"/>
<polyline points="198,1214.9 198,1144.9 241.6,1144.9 241.6,1214.9" fill="none" stroke="#0a0a0a" stroke-width="3" stroke-linejoin="miter"/>
<rect x="268.9" y="1066.8" width="44" height="148.1" fill="#707070"/>
<polyline points="268.9,1214.9 268.9,1066.8 312.9,1066.8 312.9,1214.9" fill="none" stroke="#0a0a0a" stroke-width="3" stroke-linejoin="miter"/>
<line x1="148.4" y1="1069.8" x2="148.4" y2="1080.6" stroke="#151515" stroke-width="1.4" stroke-linecap="butt"/>
<line x1="136.4" y1="1069.8" x2="160.4" y2="1069.8" stroke="#151515" stroke-width="1.4" stroke-linecap="butt"/>
<line x1="136.4" y1="1080.6" x2="160.4" y2="1080.6" stroke="#151515" stroke-width="1.4" stroke-linecap="butt"/>
<line x1="219.7" y1="1133.9" x2="219.7" y2="1150.8" stroke="#151515" stroke-width="1.4" stroke-linecap="butt"/>
<line x1="207.7" y1="1133.9" x2="231.7" y2="1133.9" stroke="#151515" stroke-width="1.4" stroke-linecap="butt"/>
<line x1="207.7" y1="1150.8" x2="231.7" y2="1150.8" stroke="#151515" stroke-width="1.4" stroke-linecap="butt"/>
<line x1="290.6" y1="1053.6" x2="290.6" y2="1075.9" stroke="#151515" stroke-width="1.4" stroke-linecap="butt"/>
<line x1="278.6" y1="1053.6" x2="302.6" y2="1053.6" stroke="#151515" stroke-width="1.4" stroke-linecap="butt"/>
<line x1="278.6" y1="1075.9" x2="302.6" y2="1075.9" stroke="#151515" stroke-width="1.4" stroke-linecap="butt"/>
<circle cx="148.4" cy="1054.3" r="4.45" fill="#fff" stroke="#2a2a2a" stroke-width="1.6"/>
<circle cx="130.4" cy="1065.1" r="4.45" fill="#fff" stroke="#2a2a2a" stroke-width="1.6"/>
<circle cx="154.9" cy="1065.1" r="4.45" fill="#fff" stroke="#2a2a2a" stroke-width="1.6"/>
<circle cx="141.9" cy="1068" r="4.45" fill="#fff" stroke="#2a2a2a" stroke-width="1.6"/>
<circle cx="167.5" cy="1067.3" r="4.45" fill="#fff" stroke="#2a2a2a" stroke-width="1.6"/>
<circle cx="148.4" cy="1087.8" r="4.45" fill="#fff" stroke="#2a2a2a" stroke-width="1.6"/>
<circle cx="135.8" cy="1096.8" r="4.45" fill="#fff" stroke="#2a2a2a" stroke-width="1.6"/>
<circle cx="161" cy="1095.7" r="4.45" fill="#fff" stroke="#2a2a2a" stroke-width="1.6"/>
<circle cx="213.2" cy="1108.7" r="4.45" fill="#fff" stroke="#2a2a2a" stroke-width="1.6"/>
<circle cx="225.8" cy="1110.1" r="4.45" fill="#fff" stroke="#2a2a2a" stroke-width="1.6"/>
<circle cx="213.2" cy="1141.1" r="4.45" fill="#fff" stroke="#2a2a2a" stroke-width="1.6"/>
<circle cx="200.6" cy="1146.1" r="4.45" fill="#fff" stroke="#2a2a2a" stroke-width="1.6"/>
<circle cx="225.8" cy="1147.9" r="4.45" fill="#fff" stroke="#2a2a2a" stroke-width="1.6"/>
<circle cx="238.4" cy="1146.1" r="4.45" fill="#fff" stroke="#2a2a2a" stroke-width="1.6"/>
<circle cx="219.7" cy="1161.6" r="4.45" fill="#fff" stroke="#2a2a2a" stroke-width="1.6"/>
<circle cx="219.7" cy="1172.4" r="4.45" fill="#fff" stroke="#2a2a2a" stroke-width="1.6"/>
<circle cx="280.9" cy="1014.7" r="4.45" fill="#fff" stroke="#2a2a2a" stroke-width="1.6"/>
<circle cx="300.3" cy="1019.4" r="4.45" fill="#fff" stroke="#2a2a2a" stroke-width="1.6"/>
<circle cx="290.6" cy="1061.9" r="4.45" fill="#fff" stroke="#2a2a2a" stroke-width="1.6"/>
<circle cx="309.3" cy="1073.4" r="4.45" fill="#fff" stroke="#2a2a2a" stroke-width="1.6"/>
<circle cx="271.5" cy="1081.3" r="4.45" fill="#fff" stroke="#2a2a2a" stroke-width="1.6"/>
<circle cx="290.6" cy="1084.9" r="4.45" fill="#fff" stroke="#2a2a2a" stroke-width="1.6"/>
<circle cx="309.3" cy="1088.5" r="4.45" fill="#fff" stroke="#2a2a2a" stroke-width="1.6"/>
<circle cx="271.5" cy="1096.8" r="4.45" fill="#fff" stroke="#2a2a2a" stroke-width="1.6"/>
<line x1="101.95" y1="976.85" x2="101.95" y2="1216.05" stroke="#111" stroke-width="2.3" stroke-linecap="butt"/>
<line x1="100.8" y1="1214.9" x2="338.5" y2="1214.9" stroke="#111" stroke-width="2.3" stroke-linecap="butt"/>
<line x1="92.15" y1="1214.9" x2="101.95" y2="1214.9" stroke="#111" stroke-width="2.3" stroke-linecap="butt"/>
<text x="90.55" y="1221.54" font-size="17.7" font-weight="bold" text-anchor="end">0.00</text>
<line x1="92.15" y1="1167.52" x2="101.95" y2="1167.52" stroke="#111" stroke-width="2.3" stroke-linecap="butt"/>
<text x="90.55" y="1174.16" font-size="17.7" font-weight="bold" text-anchor="end">0.05</text>
<line x1="92.15" y1="1120.14" x2="101.95" y2="1120.14" stroke="#111" stroke-width="2.3" stroke-linecap="butt"/>
<text x="90.55" y="1126.78" font-size="17.7" font-weight="bold" text-anchor="end">0.10</text>
<line x1="92.15" y1="1072.76" x2="101.95" y2="1072.76" stroke="#111" stroke-width="2.3" stroke-linecap="butt"/>
<text x="90.55" y="1079.4" font-size="17.7" font-weight="bold" text-anchor="end">0.15</text>
<line x1="92.15" y1="1025.38" x2="101.95" y2="1025.38" stroke="#111" stroke-width="2.3" stroke-linecap="butt"/>
<text x="90.55" y="1032.02" font-size="17.7" font-weight="bold" text-anchor="end">0.20</text>
<line x1="92.15" y1="978" x2="101.95" y2="978" stroke="#111" stroke-width="2.3" stroke-linecap="butt"/>
<text x="90.55" y="984.64" font-size="17.7" font-weight="bold" text-anchor="end">0.25</text>
<line x1="148.4" y1="1214.9" x2="148.4" y2="1224.9" stroke="#111" stroke-width="2.3" stroke-linecap="butt"/>
<line x1="219.7" y1="1214.9" x2="219.7" y2="1224.9" stroke="#111" stroke-width="2.3" stroke-linecap="butt"/>
<line x1="290.6" y1="1214.9" x2="290.6" y2="1224.9" stroke="#111" stroke-width="2.3" stroke-linecap="butt"/>
<text x="30" y="1094.5" font-size="19.8" font-weight="bold" text-anchor="middle" transform="rotate(-90 30 1094.5)">+ dP/dt (N/cm<tspan font-size="13.5" dy="-7">2</tspan><tspan dy="7">.ms</tspan><tspan font-size="13.5" dy="-7">-1</tspan><tspan dy="7">)</tspan></text>
<text x="152.1" y="1239.2" font-size="19.5" font-weight="bold" text-anchor="end" transform="rotate(-45 152.1 1239.2)">Sham12h</text>
<text x="223.4" y="1239.2" font-size="19.5" font-weight="bold" text-anchor="end" transform="rotate(-45 223.4 1239.2)">DNV12h + VEH</text>
<text x="294.3" y="1239.2" font-size="19.5" font-weight="bold" text-anchor="end" transform="rotate(-45 294.3 1239.2)">DNV12h + #205</text>
<text x="219.7" y="1100.5" font-size="27" font-weight="bold" text-anchor="middle">*</text>
<text x="290.6" y="991.6" font-size="23.5" font-weight="normal" text-anchor="middle" style="stroke-width:0.6px">#</text>
<text x="416.6" y="957.6" font-size="31.5" font-weight="bold" text-anchor="start">F</text>
<rect x="529.6" y="1095.6" width="42.9" height="119.3" fill="#222222"/>
<polyline points="529.6,1214.9 529.6,1095.6 572.5,1095.6 572.5,1214.9" fill="none" stroke="#0a0a0a" stroke-width="3" stroke-linejoin="miter"/>
<rect x="598" y="1142" width="43.6" height="72.9" fill="#ffffff"/>
<polyline points="598,1214.9 598,1142 641.6,1142 641.6,1214.9" fill="none" stroke="#0a0a0a" stroke-width="3" stroke-linejoin="miter"/>
<rect x="667.5" y="1090.9" width="43.6" height="124" fill="#707070"/>
<polyline points="667.5,1214.9 667.5,1090.9 711.1,1090.9 711.1,1214.9" fill="none" stroke="#0a0a0a" stroke-width="3" stroke-linejoin="miter"/>
<line x1="550.9" y1="1084.9" x2="550.9" y2="1102.2" stroke="#151515" stroke-width="1.4" stroke-linecap="butt"/>
<line x1="538.9" y1="1084.9" x2="562.9" y2="1084.9" stroke="#151515" stroke-width="1.4" stroke-linecap="butt"/>
<line x1="538.9" y1="1102.2" x2="562.9" y2="1102.2" stroke="#151515" stroke-width="1.4" stroke-linecap="butt"/>
<line x1="620" y1="1132.8" x2="620" y2="1148.3" stroke="#151515" stroke-width="1.4" stroke-linecap="butt"/>
<line x1="608" y1="1132.8" x2="632" y2="1132.8" stroke="#151515" stroke-width="1.4" stroke-linecap="butt"/>
<line x1="608" y1="1148.3" x2="632" y2="1148.3" stroke="#151515" stroke-width="1.4" stroke-linecap="butt"/>
<line x1="689.5" y1="1078.1" x2="689.5" y2="1099.7" stroke="#151515" stroke-width="1.4" stroke-linecap="butt"/>
<line x1="677.5" y1="1078.1" x2="701.5" y2="1078.1" stroke="#151515" stroke-width="1.4" stroke-linecap="butt"/>
<line x1="677.5" y1="1099.7" x2="701.5" y2="1099.7" stroke="#151515" stroke-width="1.4" stroke-linecap="butt"/>
<circle cx="550.9" cy="1055.4" r="4.45" fill="#fff" stroke="#2a2a2a" stroke-width="1.6"/>
<circle cx="550.9" cy="1072.3" r="4.45" fill="#fff" stroke="#2a2a2a" stroke-width="1.6"/>
<circle cx="532.2" cy="1087.1" r="4.45" fill="#fff" stroke="#2a2a2a" stroke-width="1.6"/>
<circle cx="569.3" cy="1087.1" r="4.45" fill="#fff" stroke="#2a2a2a" stroke-width="1.6"/>
<circle cx="550.9" cy="1090.7" r="4.45" fill="#fff" stroke="#2a2a2a" stroke-width="1.6"/>
<circle cx="550.9" cy="1109.4" r="4.45" fill="#fff" stroke="#2a2a2a" stroke-width="1.6"/>
<circle cx="559.9" cy="1121.3" r="4.45" fill="#fff" stroke="#2a2a2a" stroke-width="1.6"/>
<circle cx="541.2" cy="1128.1" r="4.45" fill="#fff" stroke="#2a2a2a" stroke-width="1.6"/>
<circle cx="620.4" cy="1099.7" r="4.45" fill="#fff" stroke="#2a2a2a" stroke-width="1.6"/>
<circle cx="620.4" cy="1114.8" r="4.45" fill="#fff" stroke="#2a2a2a" stroke-width="1.6"/>
<circle cx="620.4" cy="1135.3" r="4.45" fill="#fff" stroke="#2a2a2a" stroke-width="1.6"/>
<circle cx="601.7" cy="1146.5" r="4.45" fill="#fff" stroke="#2a2a2a" stroke-width="1.6"/>
<circle cx="613.9" cy="1152.6" r="4.45" fill="#fff" stroke="#2a2a2a" stroke-width="1.6"/>
<circle cx="638.4" cy="1156.2" r="4.45" fill="#fff" stroke="#2a2a2a" stroke-width="1.6"/>
<circle cx="601.7" cy="1160.5" r="4.45" fill="#fff" stroke="#2a2a2a" stroke-width="1.6"/>
<circle cx="625.8" cy="1159.8" r="4.45" fill="#fff" stroke="#2a2a2a" stroke-width="1.6"/>
<circle cx="689.5" cy="1030.9" r="4.45" fill="#fff" stroke="#2a2a2a" stroke-width="1.6"/>
<circle cx="689.5" cy="1065.1" r="4.45" fill="#fff" stroke="#2a2a2a" stroke-width="1.6"/>
<circle cx="689.5" cy="1077.7" r="4.45" fill="#fff" stroke="#2a2a2a" stroke-width="1.6"/>
<circle cx="670.8" cy="1097.5" r="4.45" fill="#fff" stroke="#2a2a2a" stroke-width="1.6"/>
<circle cx="689.5" cy="1095.7" r="4.45" fill="#fff" stroke="#2a2a2a" stroke-width="1.6"/>
<circle cx="707.9" cy="1099.3" r="4.45" fill="#fff" stroke="#2a2a2a" stroke-width="1.6"/>
<circle cx="689.5" cy="1115.9" r="4.45" fill="#fff" stroke="#2a2a2a" stroke-width="1.6"/>
<circle cx="689.5" cy="1129.9" r="4.45" fill="#fff" stroke="#2a2a2a" stroke-width="1.6"/>
<line x1="504.75" y1="982.95" x2="504.75" y2="1216.05" stroke="#111" stroke-width="2.3" stroke-linecap="butt"/>
<line x1="503.6" y1="1214.9" x2="736.3" y2="1214.9" stroke="#111" stroke-width="2.3" stroke-linecap="butt"/>
<line x1="495.15" y1="1214.9" x2="504.75" y2="1214.9" stroke="#111" stroke-width="2.3" stroke-linecap="butt"/>
<text x="493.55" y="1221.36" font-size="17.2" font-weight="bold" text-anchor="end">0.00</text>
<line x1="495.15" y1="1168.75" x2="504.75" y2="1168.75" stroke="#111" stroke-width="2.3" stroke-linecap="butt"/>
<text x="493.55" y="1175.21" font-size="17.2" font-weight="bold" text-anchor="end">0.05</text>
<line x1="495.15" y1="1122.6" x2="504.75" y2="1122.6" stroke="#111" stroke-width="2.3" stroke-linecap="butt"/>
<text x="493.55" y="1129.06" font-size="17.2" font-weight="bold" text-anchor="end">0.10</text>
<line x1="495.15" y1="1076.45" x2="504.75" y2="1076.45" stroke="#111" stroke-width="2.3" stroke-linecap="butt"/>
<text x="493.55" y="1082.91" font-size="17.2" font-weight="bold" text-anchor="end">0.15</text>
<line x1="495.15" y1="1030.3" x2="504.75" y2="1030.3" stroke="#111" stroke-width="2.3" stroke-linecap="butt"/>
<text x="493.55" y="1036.76" font-size="17.2" font-weight="bold" text-anchor="end">0.20</text>
<line x1="495.15" y1="984.15" x2="504.75" y2="984.15" stroke="#111" stroke-width="2.3" stroke-linecap="butt"/>
<text x="493.55" y="990.61" font-size="17.2" font-weight="bold" text-anchor="end">0.25</text>
<line x1="550.9" y1="1214.9" x2="550.9" y2="1224.3" stroke="#111" stroke-width="2.3" stroke-linecap="butt"/>
<line x1="619.8" y1="1214.9" x2="619.8" y2="1224.3" stroke="#111" stroke-width="2.3" stroke-linecap="butt"/>
<line x1="689.5" y1="1214.9" x2="689.5" y2="1224.3" stroke="#111" stroke-width="2.3" stroke-linecap="butt"/>
<text x="442.3" y="1096.5" font-size="19.6" font-weight="bold" text-anchor="middle" transform="rotate(-90 442.3 1096.5)">- dP/dt (N/cm<tspan font-size="13.5" dy="-7">2</tspan><tspan dy="7">.ms</tspan><tspan font-size="13.5" dy="-7">-1</tspan><tspan dy="7">)</tspan></text>
<text x="554.1" y="1238.9" font-size="19" font-weight="bold" text-anchor="end" transform="rotate(-45 554.1 1238.9)">Sham12h</text>
<text x="623" y="1238.9" font-size="19" font-weight="bold" text-anchor="end" transform="rotate(-45 623 1238.9)">DNV12h + VEH</text>
<text x="692.7" y="1238.9" font-size="19" font-weight="bold" text-anchor="end" transform="rotate(-45 692.7 1238.9)">DNV12h + #205</text>
<text x="620.4" y="1089.7" font-size="27" font-weight="bold" text-anchor="middle">*</text>
<text x="690.6" y="1015" font-size="23.5" font-weight="normal" text-anchor="middle" style="stroke-width:0.6px">#</text>
</svg></body></html>
